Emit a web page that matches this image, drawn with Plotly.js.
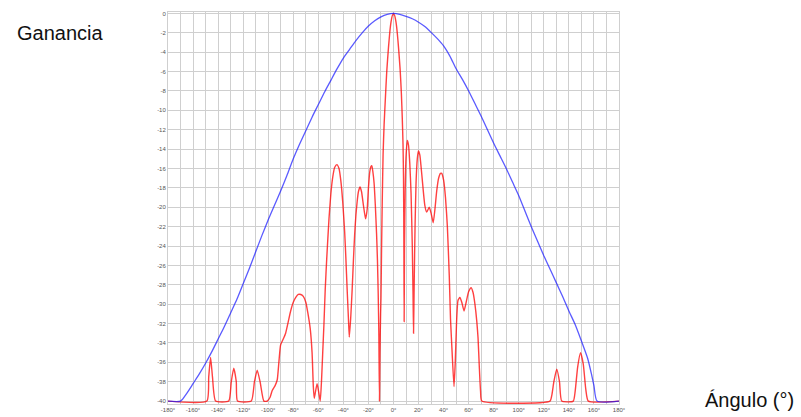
<!DOCTYPE html>
<html>
<head>
<meta charset="utf-8">
<script src="https://cdn.plot.ly/plotly-3.0.1.min.js"></script>
<style>
html,body{margin:0;padding:0;background:#fff;}
#chart{width:801px;height:417px;}
</style>
</head>
<body>
<div id="chart"></div>
<script>
// Red trace: array pattern gain (dB) vs angle (deg)
const redAngles = [-180,-149,-147.5,-146,-144.5,-142,-131.5,-129.5,-127.5,-125.5,-124.5,-113.5,-111,-108.8,-106.5,-103.5,
  -100.8,-98.5,-96.8,-94.5,-92.8,-91.5,-90.1,-88,-86.1,-84,-82.1,-80,-78,-76,-74,-72,-70,-68.5,-66.5,-65,-64,-63.3,-62.5,-61,-59.8,-58.5,
  -57.5,-56.5,-55.5,-54.5,-53.3,-51.5,-50,-48.5,-47,-45.2,-43.5,-42,-40.5,-39,-38,-37,-36,-35.3,-34.2,-33,-32,-31,-30,-29,-28,-26.7,-25.5,-24,-22.3,-21,-20,-19,-18,-17.3,-16.5,-15.5,-14.5,-13.5,-12.8,-12.2,-11.7,-11.2,
  -10.8,-10.3,-10,-9.5,-9,-8.3,-7.5,-6.5,-5.4,-4,-3,-2,-1,0,1,2,3,4,5.3,6.3,7,7.6,8.0,8.3,8.5,8.8,9.3,10,11,12,13,14,15,15.6,16,16.5,17.2,18,19,19.9,21,22,23,25,26.5,28.5,30,31.7,33,34.5,36,37.5,38.5,40,41.5,43,44.5,45.5,46.8,48.3,49.3,50.3,51.5,53,54.5,56.3,58,60,62,63.5,65,66.5,67.5,68.5,69.5,70.5,
  124.9,126.5,128,130.3,132.5,134.3,143.5,145,147,149.3,151.5,153.5,155.5,180];
const redGain = [-40,-40,-37.5,-35.5,-37.5,-40,-40,-38,-36.6,-38,-40,-40,-38,-36.8,-38,-40,
  -40,-39.6,-38.9,-38.4,-37.8,-36,-34.2,-33.6,-33.0,-31.8,-30.7,-29.8,-29.3,-29.0,-29.0,-29.2,-29.8,-30.8,-32.5,-35,-38.5,-39.7,-39.2,-38.2,-39.0,-40,
  -38,-35,-32,-28.5,-25.3,-21.2,-18.6,-16.9,-15.9,-15.6,-16.0,-17.3,-19.5,-22.5,-25.3,-28.5,-31.4,-33.4,-31.5,-28.5,-25.5,-22.8,-20.8,-19.4,-18.4,-17.9,-18.4,-19.8,-21.2,-20.2,-18,-16.4,-15.8,-15.7,-16.3,-17.5,-19.8,-22.8,-25.5,-29,-33,-40,
  -35,-31,-29.4,-24,-19.5,-14.5,-11.5,-8.8,-6.0,-3.5,-2.0,-0.9,-0.25,0,-0.25,-0.9,-2.0,-3.5,-5.8,-8.3,-10.8,-13.5,-17,-24,-31.8,-24,-18.5,-14.8,-13.1,-13.6,-15.5,-18.5,-24,-29,-33,-28,-22,-17.5,-15,-14.2,-14.6,-15.8,-17.2,-19.8,-20.5,-20.0,-20.6,-21.6,-20.3,-18.3,-17.0,-16.5,-16.5,-17.2,-19.0,-22,-27,-31.5,-35,-38.5,-36,-32,-29.6,-29.3,-29.8,-30.7,-29.8,-28.7,-28.3,-28.8,-30,-31.8,-33.5,-36.5,-39,-40,
  -40,-39.3,-38,-36.7,-38,-40,-40,-39,-36.5,-35,-36.2,-38.8,-40,-40];

// Blue trace: element pattern gain (dB) vs angle (deg)
const blueAngles = [-180,-170,-165,-160,-155,-150,-145,-140,-135,-130,-125,-120,-115,-110,-105,-100,-95,-90,-85,-80,-75,-70,-65,-60,-55,-50,-45,-40,-35,-30,-25,-20,-15,-10,-5,0,
  5,10,15,20,25,30,35,40,45,50,55,60,65,70,75,80,85,90,95,100,105,110,115,120,125,130,135,140,145,150,155,158,160,162.5,180];
const blueGain = [-40,-40,-39.2,-38.2,-37.2,-36.1,-34.9,-33.6,-32.3,-30.9,-29.5,-27.9,-26.3,-24.6,-22.9,-21.3,-19.8,-18.3,-16.7,-15.0,-13.5,-12.1,-10.7,-9.4,-8.1,-6.9,-5.7,-4.6,-3.7,-2.8,-2.0,-1.3,-0.75,-0.35,-0.1,0,
  -0.1,-0.3,-0.55,-0.9,-1.35,-1.95,-2.6,-3.35,-4.4,-5.7,-6.8,-8.0,-9.3,-10.6,-12.0,-13.4,-14.7,-16.0,-17.4,-18.8,-20.4,-22.0,-23.5,-25.0,-26.4,-27.8,-29.2,-30.7,-32.1,-33.8,-35.6,-37.2,-38.4,-40,-40];

// Ticks
const xTickVals = [];
const xTickText = [];
for (let a = -180; a <= 180; a += 10) { xTickVals.push(a); xTickText.push(a % 20 === 0 ? a + '°' : ''); }
const yTickVals = [];
const yTickText = [];
for (let g = 0; g >= -40; g -= 2) { yTickVals.push(g); yTickText.push(String(g)); }

const traces = [
  {x: redAngles, y: redGain, type: 'scatter', mode: 'lines',
   line: {color: 'rgba(255,0,0,0.75)', width: 1.4, shape: 'spline', smoothing: 0.5}, hoverinfo: 'skip'},
  {x: blueAngles, y: blueGain, type: 'scatter', mode: 'lines',
   line: {color: 'rgba(20,20,255,0.7)', width: 1.3, shape: 'spline', smoothing: 0.6}, hoverinfo: 'skip'}
];

const gridCol = '#cfcfcf';
const layout = {
  width: 801, height: 417,
  margin: {l: 168, r: 182, t: 12, b: 13, pad: 0},
  paper_bgcolor: '#ffffff', plot_bgcolor: '#ffffff',
  showlegend: false,
  font: {family: 'Liberation Sans, Arial, sans-serif', size: 6, color: '#555'},
  xaxis: {range: [-180, 180], tickmode: 'array', tickvals: xTickVals, ticktext: xTickText,
          showgrid: true, gridcolor: gridCol, gridwidth: 1, zeroline: false, layer: 'below traces',
          showline: true, linecolor: gridCol, mirror: true, ticks: '', fixedrange: true,
          tickfont: {size: 6, color: '#555'}},
  yaxis: {range: [-40.3, 0.15], tickmode: 'array', tickvals: yTickVals, ticktext: yTickText,
          showgrid: true, gridcolor: gridCol, gridwidth: 1, zeroline: false, layer: 'below traces',
          showline: true, linecolor: gridCol, mirror: true, ticks: '', fixedrange: true,
          tickfont: {size: 6, color: '#555'}},
  annotations: [
    {text: 'Ganancia', xref: 'paper', yref: 'paper', x: -0.339, y: 0.946, xanchor: 'left', yanchor: 'middle',
     showarrow: false, font: {size: 20, color: '#111', family: 'Liberation Sans, Arial, sans-serif'}},
    {text: 'Ángulo (°)', xref: 'paper', yref: 'paper', x: 1.186, y: 0.01, xanchor: 'left', yanchor: 'middle',
     showarrow: false, font: {size: 20, color: '#111', family: 'Liberation Sans, Arial, sans-serif'}}
  ]
};

Plotly.newPlot('chart', traces, layout, {displayModeBar: false, staticPlot: true});
</script>
</body>
</html>
